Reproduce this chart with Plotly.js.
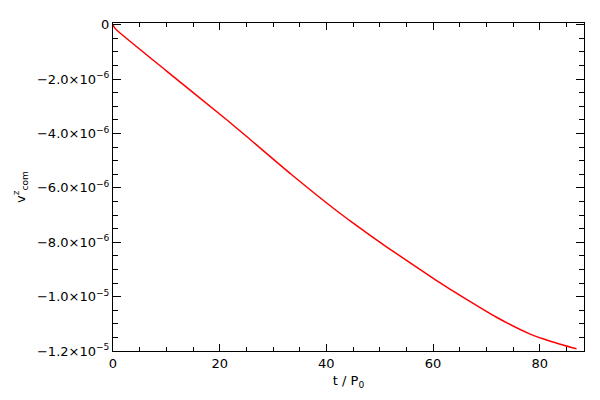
<!DOCTYPE html>
<html>
<head>
<meta charset="utf-8">
<script src="https://cdn.plot.ly/plotly-3.0.1.min.js"></script>
<style>html,body{margin:0;padding:0;background:#fff;}#chart{width:600px;height:400px;}</style>
</head>
<body>
<div id="chart"></div>
<script>
const tVals = [0, 0.3, 1.1, 10, 21.2, 25.4, 33.4, 41.5, 44.9, 51.2, 60.6, 65.6, 71.9, 78.1, 82, 86.9];
const vzVals = [0, -0.12e-6, -0.27e-6, -1.70e-6, -3.48e-6, -4.17e-6, -5.50e-6, -6.78e-6, -7.28e-6, -8.16e-6, -9.40e-6, -10.02e-6, -10.76e-6, -11.37e-6, -11.64e-6, -11.92e-6];
const yTickVals = [0, -2e-6, -4e-6, -6e-6, -8e-6, -1.0e-5, -1.2e-5];
const yTickText = ['0', '−2.0×10<sup>−6</sup>', '−4.0×10<sup>−6</sup>', '−6.0×10<sup>−6</sup>', '−8.0×10<sup>−6</sup>', '−1.0×10<sup>−5</sup>', '−1.2×10<sup>−5</sup>'];
const xTickVals = [0, 20, 40, 60, 80];
const xTickText = ['0', '20', '40', '60', '80'];

const font = {family: 'DejaVu Sans, Liberation Sans, sans-serif', size: 13, color: '#000'};

Plotly.newPlot('chart', [{
  x: tVals, y: vzVals, type: 'scatter', mode: 'lines',
  line: {color: '#ff0000', width: 1.5, shape: 'spline', smoothing: 0.6}
}], {
  width: 600, height: 400,
  margin: {l: 113, r: 16, t: 23, b: 49},
  paper_bgcolor: '#fff', plot_bgcolor: '#fff',
  showlegend: false,
  font: font,
  xaxis: {
    range: [0, 88.3], showgrid: false, zeroline: false,
    showline: true, linecolor: '#000', linewidth: 1, mirror: 'ticks',
    ticks: 'inside', ticklen: 7, tickcolor: '#000',
    tickvals: xTickVals, ticktext: xTickText,
    minor: {ticks: 'inside', ticklen: 4, dtick: 5, tickcolor: '#000', showgrid: false},
    title: {text: 't / P<sub>0</sub>', font: font, standoff: 6}
  },
  yaxis: {
    range: [-1.2e-5, 0.06e-6], showgrid: false, zeroline: false,
    showline: true, linecolor: '#000', linewidth: 1, mirror: 'ticks',
    ticks: 'inside', ticklen: 8, tickcolor: '#000',
    tickvals: yTickVals, ticktext: yTickText,
    minor: {ticks: 'inside', ticklen: 5, dtick: 0.5e-6, tickcolor: '#000', showgrid: false},
    title: {text: 'v<sup>z</sup><sub>com</sub>', font: font, standoff: 8}
  }
}, {displayModeBar: false, staticPlot: true});
</script>
</body>
</html>
